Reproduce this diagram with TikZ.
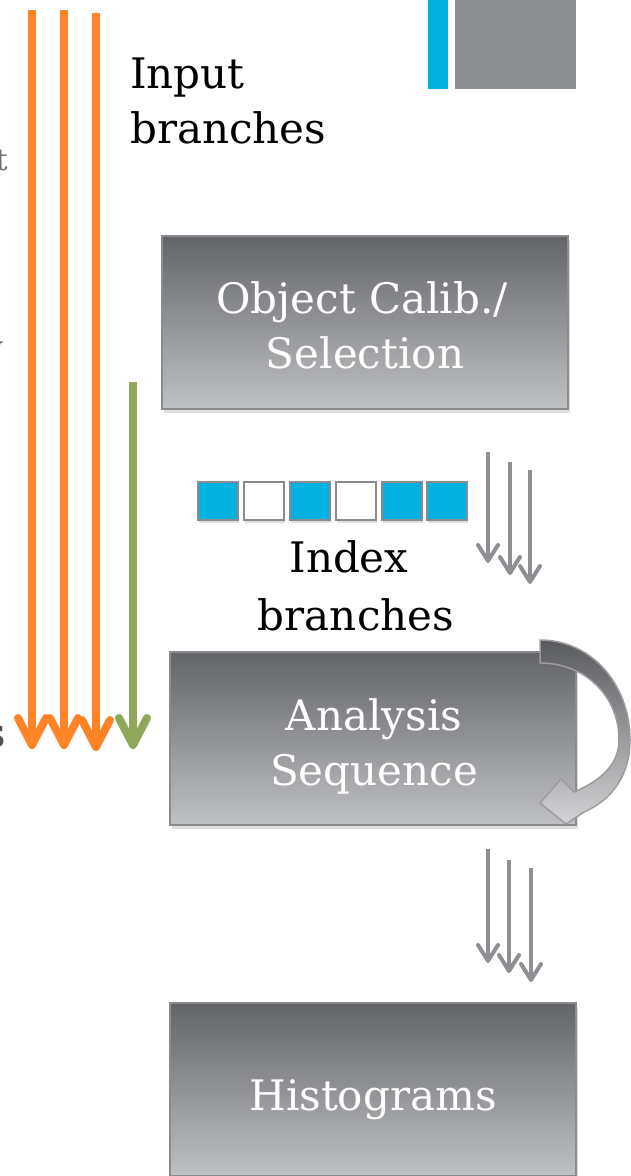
\documentclass[tikz,border=0pt]{standalone}
\usepackage{fontspec}
\setmainfont{DejaVu Serif}
\usetikzlibrary{shadows,calc}
\definecolor{orangeA}{HTML}{FF8427}
\definecolor{greenA}{HTML}{8FA75A}
\definecolor{grayArr}{HTML}{8E8F93}
\definecolor{blueA}{HTML}{00B1E1}
\definecolor{grayTop}{HTML}{8C8D91}
\definecolor{boxTop}{HTML}{636468}
\definecolor{boxBot}{HTML}{C0C1C3}
\definecolor{boxEdge}{HTML}{8A8B8E}
\definecolor{fragA}{HTML}{6E6E6E}
\definecolor{fragB}{HTML}{505050}
\tikzset{
  bigbox/.style={draw=boxEdge, line width=2pt, top color=boxTop, bottom color=boxBot,
    minimum width=406pt, minimum height=173pt, inner sep=0pt,
    drop shadow={opacity=0.25, shadow xshift=2pt, shadow yshift=-4pt}},
  boxtext/.style={text=white, font=\fontsize{42}{50}\selectfont, anchor=base, inner sep=0pt},
  blacktext/.style={text=black, font=\fontsize{42}{50}\selectfont, inner sep=0pt},
  sq/.style={draw=boxEdge, line width=2.5pt, minimum width=40pt, minimum height=38pt, inner sep=0pt,
    drop shadow={opacity=0.25, shadow xshift=1pt, shadow yshift=-3pt}},
  oshaft/.style={draw=orangeA, line width=8pt},
  ohead/.style={draw=orangeA, line width=8pt, line cap=round, line join=round},
  gshaft/.style={draw=greenA, line width=8pt},
  ghead/.style={draw=greenA, line width=8pt, line cap=round, line join=round},
  smshaft/.style={draw=grayArr, line width=4pt},
  smhead/.style={draw=grayArr, line width=4pt, line cap=round, line join=round},
}
\begin{document}
\begin{tikzpicture}[x=1pt,y=-1pt]
\useasboundingbox[fill=white] (0,0) rectangle (630,1176);

% top right decoration
\fill[blueA] (428,0) rectangle (448,89);
\fill[grayTop] (455,0) rectangle (576,89);

% cut-off texts at left edge (cut in the reference as well)
\node[anchor=base east, inner sep=0pt, text=fragA, font=\fontsize{30}{36}\selectfont] (fragt) at (8,170) {t};
\node[anchor=base east, inner sep=0pt, text=fragA, font=\fontsize{30}{36}\selectfont] (fragy) at (3,357) {y};
\node[anchor=base east, inner sep=0pt, text=fragB, font=\fontsize{42}{50}\selectfont] (frags) at (6,747) {s};

% orange and green input arrows
\coordinate (o1s) at (32,10);  \coordinate (o1e) at (32,745);
\coordinate (o2s) at (64,10);  \coordinate (o2e) at (64,745);
\coordinate (o3s) at (96,13);  \coordinate (o3e) at (96,747);
\coordinate (g1s) at (133,382); \coordinate (g1e) at (133,745);
\foreach \n in {o1,o2,o3}{
  \draw[oshaft] (\n s) -- (\n e);
  \draw[ohead] ([shift={(-14,-27)}]\n e) -- (\n e) -- ([shift={(14,-27)}]\n e);
}
\draw[gshaft] (g1s) -- (g1e);
\draw[ghead] ([shift={(-14,-27)}]g1e) -- (g1e) -- ([shift={(14,-27)}]g1e);

% labels
\node[blacktext, anchor=base west] (inp1) at (130,88) {Input};
\node[blacktext, anchor=base west] (inp2) at (130,143) {branches};
\node[blacktext, anchor=base] (idx1) at (349,572) {Index};
\node[blacktext, anchor=base] (idx2) at (356,630) {branches};

% boxes
\node[bigbox] (calib) at (365,322) {};
\node[boxtext] (calibA) at (362,313) {Object Calib./};
\node[boxtext] (calibB) at (365,368) {Selection};

\node[bigbox] (ana) at (373,738.5) {};
\node[boxtext] (anaA) at (374,730) {Analysis};
\node[boxtext] (anaB) at (374,785) {Sequence};

\node[bigbox] (hist) at (373,1089.5) {};
\node[boxtext] (histA) at (373,1110) {Histograms};

% loop arrow on analysis box
\draw[draw=boxEdge!85, line width=1.5pt, line join=round, top color=boxTop!90!black, bottom color=boxBot!70!white]
  (540,640) .. controls (592,640) and (630,685) .. (630,740)
  .. controls (630,775) and (612,800) .. (584,812)
  -- (566,824) -- (540,803) -- (561,779)
  -- (574,792) .. controls (600,781) and (619,765) .. (619,740)
  .. controls (619,696) and (585,663) .. (540,663) -- cycle;

% index squares
\foreach \x/\c [count=\i] in {218/blueA,264/white,310/blueA,356/white,402/blueA,447/blueA}{
  \node[sq, fill=\c] (sq\i) at (\x,501) {};
}

% small gray arrows (after selection)
\coordinate (a1s) at (488,452); \coordinate (a1e) at (488,561);
\coordinate (a2s) at (510,462); \coordinate (a2e) at (510,573);
\coordinate (a3s) at (530,470); \coordinate (a3e) at (530,582);
% small gray arrows (after analysis)
\coordinate (b1s) at (488,849); \coordinate (b1e) at (488,961);
\coordinate (b2s) at (509,860); \coordinate (b2e) at (509,971);
\coordinate (b3s) at (531,868); \coordinate (b3e) at (531,980);
\foreach \n in {a1,a2,a3,b1,b2,b3}{
  \draw[smshaft] (\n s) -- (\n e);
  \draw[smhead] ([shift={(-10,-16)}]\n e) -- (\n e) -- ([shift={(10,-16)}]\n e);
}
\end{tikzpicture}
\end{document}
